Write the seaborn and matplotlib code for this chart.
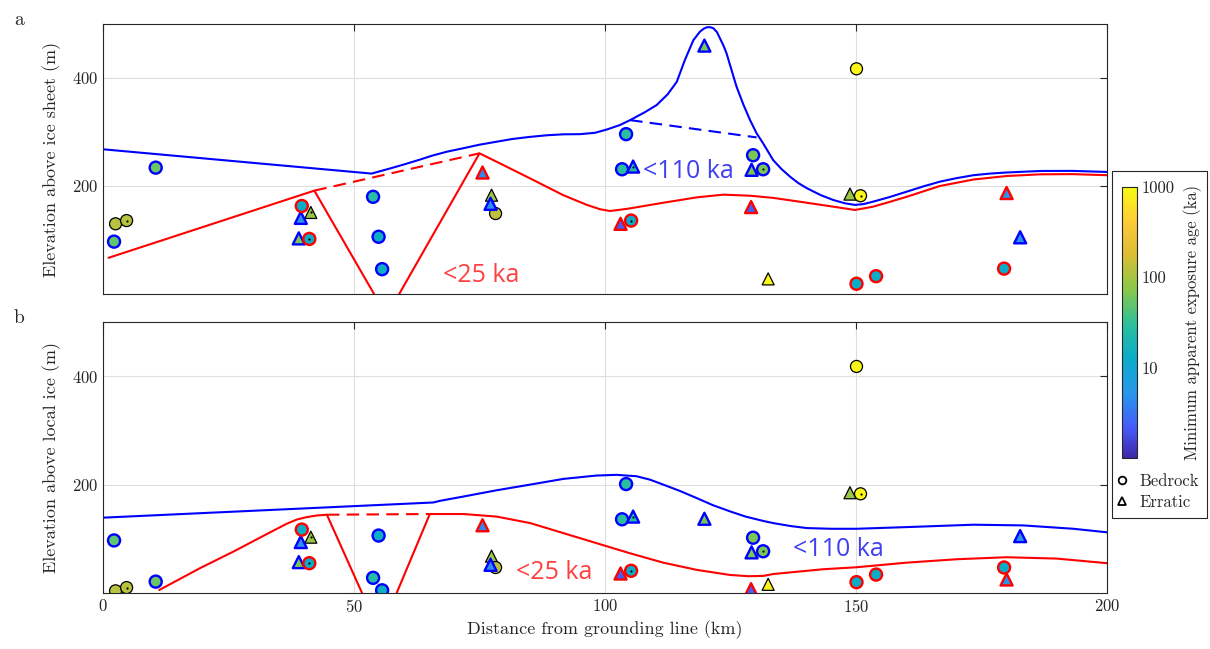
import numpy as np
import pandas as pd
import matplotlib
matplotlib.use("Agg")
import matplotlib.pyplot as plt
from matplotlib.colors import LinearSegmentedColormap, LogNorm
from matplotlib.cm import ScalarMappable
from matplotlib.lines import Line2D
from matplotlib.patches import Rectangle
import seaborn as sns

# ---------------- exposure-age samples ----------------
distance_km = [2.2, 2.5, 4.7, 10.5, 39.6, 41.4, 39.4, 39.0, 41.1, 53.8,
               54.9, 55.6, 75.6, 77.4, 77.2, 78.2, 119.8, 104.2, 103.4, 105.6,
               103.1, 105.2, 129.1, 129.5, 129.2, 131.5, 132.5, 150.1, 148.8, 150.9,
               180.0, 182.7, 179.5, 154.0, 150.1]
elev_above_sheet_m = [97, 130, 136, 234, 163, 151, 141, 103, 102, 180,
                      106, 46, 225, 183, 167, 149, 460, 296, 231, 236,
                      130, 136, 161, 257, 230, 231, 28, 417, 185, 182,
                      187, 105, 47, 33, 19]
elev_above_local_m = [97, 4, 10, 21, 117, 103, 94, 57, 55, 28,
                      106, 5, 125, 68, 52, 47, 137, 201, 136, 141,
                      36, 41, 7, 102, 75, 77, 16, 418, 185, 183,
                      25, 105, 47, 34, 20]
age_ka = [50, 120, 120, 55, 13, 85, 5, 65, 13, 26,
          14, 14, 4.5, 90, 5, 130, 65, 28, 28, 28,
          2.3, 13, 2.3, 65, 65, 65, 900, 900, 90, 900,
          5, 5, 13, 13, 13]
sample_type = ["Bedrock", "Bedrock", "Bedrock", "Bedrock", "Bedrock", "Erratic", "Erratic", "Erratic", "Bedrock", "Bedrock",
               "Bedrock", "Bedrock", "Erratic", "Erratic", "Erratic", "Bedrock", "Erratic", "Bedrock", "Bedrock", "Erratic",
               "Erratic", "Bedrock", "Erratic", "Bedrock", "Erratic", "Bedrock", "Erratic", "Bedrock", "Erratic", "Bedrock",
               "Erratic", "Erratic", "Bedrock", "Bedrock", "Bedrock"]
outline_group = ["blue", "black", "black", "blue", "red", "black", "blue", "blue", "red", "blue",
                 "blue", "blue", "red", "black", "blue", "black", "blue", "blue", "blue", "blue",
                 "red", "red", "red", "blue", "blue", "blue", "black", "black", "black", "black",
                 "red", "blue", "red", "red", "red"]
centre_dot = [False, False, True, False, False, True, False, False, True, False,
              False, False, False, False, False, False, False, False, False, True,
              False, True, False, False, False, True, False, False, False, True,
              False, False, False, False, False]

# ---------------- ice-surface constraint lines ----------------
# (a) relative to the ice sheet
a_upper_x = [0, 53.5, 57, 60, 63, 65.5, 68.5, 71.8, 75, 78.4, 81.5, 85.1, 88.5, 91.7, 95, 98,
             100.5, 103, 105, 108, 110.3, 112.5, 114.3, 115.9, 117.6, 118.9, 119.7, 120.3,
             121, 121.6, 122.3, 122.9, 123.6, 124.2, 125.2, 126.2, 127.6, 128.9, 130.2,
             131.5, 133.5, 135.2, 136.9, 138.5, 140.2, 143, 145.5, 147.8, 149.8, 151.5,
             153.4, 156.5, 160.1, 163.5, 166.7, 170, 173.4, 176.7, 180, 186.7, 193, 200]
a_upper_y = [268, 223, 232, 240, 248.5, 256, 263.5, 270, 276.5, 282, 287, 291, 294, 295.7,
             296, 298.5, 305, 313, 322, 337, 350, 370, 393, 433, 470, 485.7, 491.5, 494,
             494, 492, 485, 473.5, 460, 446, 415, 384, 350, 322, 297.6,
             279, 248, 231, 217, 205.5, 196, 183, 174, 168, 165, 166.5,
             171, 179, 189.5, 199.5, 208, 214.5, 220, 223, 225, 227.8, 228, 226]
a_upper_gap_x = [105, 130.2]
a_upper_gap_y = [322, 290]
a_lower1_x = [1.1, 42.1, 54]
a_lower1_y = [67, 191.4, 0]
a_lower2_x = [59, 75, 78.4, 85.1, 91.7, 96.4, 99, 101, 103, 105, 111.6, 118.3, 123.6, 128.9,
              133.5, 140.2, 146.7, 149.8, 153.4, 156.5, 160.1, 166.7, 173.4, 180, 186.7, 193, 200]
a_lower2_y = [0, 260.5, 245, 214, 183, 165, 157, 153.7, 156, 158.6, 169, 179, 184, 182,
              178, 169, 160, 155.6, 161.7, 170, 180, 200, 212, 218.5, 221.6, 222, 220]
a_lower_gap_x = [42.1, 75]
a_lower_gap_y = [191.4, 260.5]

# (b) relative to local ice
b_upper_x = [0, 65.8, 67.1, 71.8, 78.4, 85.1, 91.7, 98.3, 102.3, 106.3, 109, 111.6, 115,
             118.3, 121.5, 124.9, 128, 131.5, 133.5, 137, 140.2, 145, 150.1, 160.1, 173.4,
             183.3, 193.3, 200]
b_upper_y = [139, 167, 170, 178, 189.5, 200, 210.5, 216.7, 218, 215.4, 209, 200, 188,
             175, 162, 150.6, 141, 133, 129, 123.5, 119.8, 118.5, 118.5, 121.6, 126,
             124.7, 118.5, 112]
b_lower1_x = [11.2, 19.3, 26, 32.6, 36.6, 38.6, 40.6, 42.6, 44.6, 51.6]
b_lower1_y = [5.5, 45.7, 76.5, 108.6, 127.8, 135.5, 140, 143, 144.4, 0]
b_lower2_x = [58.5, 65.1, 71.8, 78.4, 85.1, 91.7, 98.3, 104.9, 111.6, 118.3, 124.9, 128.5,
              131.5, 133.5, 143.4, 150.1, 160.1, 170.1, 180, 190, 200]
b_lower2_y = [0, 145.7, 145.7, 141, 129, 110.5, 92, 73.5, 56, 42.6, 33.3, 31,
              31.5, 35, 43.8, 47.5, 56, 62.3, 66, 63.5, 55]
b_lower_gap_x = [44.6, 65.1]
b_lower_gap_y = [144.4, 145.7]

x_ticks = [0, 50, 100, 150, 200]
y_ticks = [200, 400]
age_ticks = [10, 100, 1000]

# ---------------- styling ----------------
sns.set_style("white")
plt.rcParams["font.family"] = ["cmr10", "DejaVu Serif"]
plt.rcParams["mathtext.fontset"] = "cm"
plt.rcParams["axes.unicode_minus"] = False
plt.rcParams["axes.formatter.use_mathtext"] = True

parula = LinearSegmentedColormap.from_list("parula", [
    (0.00, (0.2422, 0.1504, 0.6603)),
    (0.11, (0.2780, 0.3556, 0.9777)),
    (0.24, (0.1540, 0.5902, 0.9218)),
    (0.37, (0.0383, 0.6760, 0.7829)),
    (0.49, (0.1709, 0.7506, 0.6190)),
    (0.62, (0.5282, 0.7858, 0.2967)),
    (0.75, (0.8596, 0.7419, 0.2009)),
    (0.87, (0.9942, 0.7921, 0.2173)),
    (1.00, (0.9769, 0.9839, 0.0805)),
])
age_norm = LogNorm(vmin=1, vmax=1000)

samples = pd.DataFrame({
    "distance": distance_km,
    "sheet": elev_above_sheet_m,
    "local": elev_above_local_m,
    "age": age_ka,
    "type": sample_type,
    "outline": outline_group,
    "dot": centre_dot,
})

W, H = 1210, 649
fig = plt.figure(figsize=(W / 100, H / 100), dpi=100)
ax_a = fig.add_axes([103 / W, 1 - 294 / H, 1004 / W, 270 / H])
ax_b = fig.add_axes([103 / W, 1 - 593 / H, 1004 / W, 271 / H])

edge_style = {"black": ("black", 0.9), "blue": ("#0000ff", 1.7), "red": ("#ff0000", 1.7)}
frame_col = "0.15"
red_line = "#ff0000"
blue_line = "#0000ff"
dash = (6, 3.5)


def draw_panel(ax, ycol, upper, upper_gap, lower_parts, lower_gap, ylabel, labels):
    ux, uy = upper
    ax.plot(ux, uy, color=blue_line, lw=1.5, zorder=2, solid_joinstyle="round")
    if upper_gap is not None:
        ax.plot(upper_gap[0], upper_gap[1], color=blue_line, lw=1.5, dashes=dash, zorder=2)
    for lx, ly in lower_parts:
        ax.plot(lx, ly, color=red_line, lw=1.5, zorder=2, solid_joinstyle="round")
    ax.plot(lower_gap[0], lower_gap[1], color=red_line, lw=1.5, dashes=dash,
            dash_capstyle="butt", zorder=2)

    for grp in ["black", "blue", "red"]:
        sub = samples[samples["outline"] == grp]
        ec, lw = edge_style[grp]
        sns.scatterplot(data=sub, x="distance", y=ycol, hue="age", hue_norm=age_norm,
                        palette=parula, style="type",
                        markers={"Bedrock": "o", "Erratic": "^"},
                        s=75, edgecolor=ec, linewidth=lw, legend=False, ax=ax, zorder=3)
    dots = samples[samples["dot"]]
    ax.scatter(dots["distance"], dots[ycol], s=2.5, color="black", zorder=4, linewidths=0)

    for txt, x, y, col in labels:
        ax.text(x, y, txt, color=col, fontsize=18, family=["Open Sans", "DejaVu Sans"],
                ha="left", va="center", zorder=5)

    ax.set_xlim(0, 200)
    ax.set_ylim(0, 500)
    ax.set_xticks(x_ticks)
    ax.set_yticks(y_ticks)
    ax.grid(True, color="0.87", lw=0.8, zorder=0)
    ax.set_axisbelow(True)
    ax.tick_params(direction="in", top=True, right=True, length=5, width=0.8,
                   colors=frame_col, labelsize=12, labelcolor=frame_col)
    for sp in ax.spines.values():
        sp.set_color(frame_col)
        sp.set_linewidth(0.8)
    ax.set_ylabel(ylabel, fontsize=13, color=frame_col, labelpad=8)
    ax.set_xlabel("")


draw_panel(ax_a, "sheet", (a_upper_x, a_upper_y), (a_upper_gap_x, a_upper_gap_y),
           [(a_lower1_x, a_lower1_y), (a_lower2_x, a_lower2_y)],
           (a_lower_gap_x, a_lower_gap_y), "Elevation above ice sheet (m)",
           [("<25 ka", 67.7, 35, "#ff4040"), ("<110 ka", 107.6, 226, "#4040f0")])
draw_panel(ax_b, "local", (b_upper_x, b_upper_y), None,
           [(b_lower1_x, b_lower1_y), (b_lower2_x, b_lower2_y)],
           (b_lower_gap_x, b_lower_gap_y), "Elevation above local ice (m)",
           [("<25 ka", 82.3, 38, "#ff4040"), ("<110 ka", 137.5, 81, "#4040f0")])

ax_a.tick_params(labelbottom=False)
ax_b.set_xlabel("Distance from grounding line (km)", fontsize=13, color=frame_col, labelpad=4)

fig.text(14 / W, 1 - 20 / H, "a", fontsize=14, ha="left", va="center")
fig.text(14 / W, 1 - 318 / H, "b", fontsize=14, ha="left", va="center")

# colour scale
cax = fig.add_axes([1122 / W, 1 - 458 / H, 15 / W, 271 / H])
cb = fig.colorbar(ScalarMappable(norm=age_norm, cmap=parula), cax=cax)
cb.set_ticks(age_ticks)
cb.set_ticklabels([str(t) for t in age_ticks])
cb.ax.minorticks_off()
cb.ax.tick_params(direction="in", length=3, width=0.8, labelsize=12, colors=frame_col,
                  labelcolor=frame_col)
cb.outline.set_edgecolor(frame_col)
cb.outline.set_linewidth(0.8)
cb.set_label("Minimum apparent exposure age (ka)", fontsize=12, color=frame_col, labelpad=6)

# marker key
handles = [
    Line2D([], [], marker="o", ls="none", mfc="none", mec="black", ms=5.5, mew=1.3, label="Bedrock"),
    Line2D([], [], marker="^", ls="none", mfc="none", mec="black", ms=5.5, mew=1.3, label="Erratic"),
]
fig.legend(handles=handles, loc="upper left", bbox_to_anchor=(1114 / W, 1 - 474 / H),
           frameon=False, fontsize=12, handlelength=1.0, handletextpad=0.5,
           labelspacing=0.3, borderpad=0, borderaxespad=0)

fig.patches.append(Rectangle((1112 / W, 1 - 518 / H), 95 / W, 347 / H,
                             transform=fig.transFigure, fill=False,
                             edgecolor=frame_col, linewidth=0.8))

fig.savefig("out.png", dpi=100, facecolor="white")
